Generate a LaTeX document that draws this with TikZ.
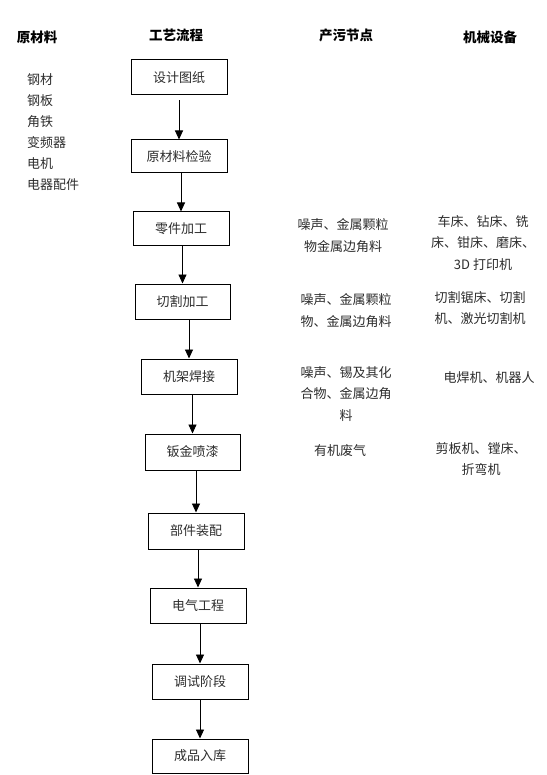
\documentclass[tikz,border=0pt]{standalone}
\usepackage{fontspec}
\setmainfont{Noto Sans CJK SC}
\usepackage{tikz}
\usetikzlibrary{arrows.meta}

\tikzset{
  stepbox/.style={draw=black,line width=1pt,minimum width=96pt,minimum height=35pt,inner sep=0pt,
    font=\fontsize{13}{15}\selectfont,text={rgb,255:red,45;green,45;blue,45}},
  headtxt/.style={inner sep=0pt,font=\bfseries\fontsize{13.5}{16}\selectfont,text=black},
  coltxt/.style={inner sep=0pt,align=center,font=\fontsize{13}{21.5}\selectfont,text={rgb,255:red,45;green,45;blue,45}},
  flowarrow/.style={draw=black,line width=0.9pt,-{Triangle[length=9pt,width=8pt]}}
}

\begin{document}
\begin{tikzpicture}[x=1pt,y=-1pt]
\path[use as bounding box] (0,0) rectangle (546,775);
\path[fill=white,draw=none] (0,0) rectangle (546,775);
% column heads
\node[headtxt] (hraw) at (37,37) {原材料};
\node[headtxt] (hflow) at (176,35) {工艺流程};
\node[headtxt] (hpoll) at (346,35) {产污节点};
\node[headtxt] (hequip) at (490,37) {机械设备};
% raw materials
\node[coltxt,align=left,anchor=west,font=\fontsize{13}{21}\selectfont] (raw) at (27,132.5) {钢材\\钢板\\角铁\\变频器\\电机\\电器配件};
% process steps
\node[stepbox] (design) at (179,77.5) {设计图纸};
\node[stepbox,minimum height=33pt] (check) at (179,156.5) {原材料检验};
\node[stepbox,minimum height=34pt] (parts) at (181,229) {零件加工};
\node[stepbox,minimum width=95pt] (cut) at (182.5,301.5) {切割加工};
\node[stepbox] (weld) at (189,376.5) {机架焊接};
\node[stepbox,minimum width=95pt,minimum height=36pt] (paint) at (192.5,452) {钣金喷漆};
\node[stepbox,minimum height=36pt] (assy) at (196,531) {部件装配};
\node[stepbox] (elec) at (198,605.5) {电气工程};
\node[stepbox] (debug) at (200,681.5) {调试阶段};
\node[stepbox,minimum height=34pt] (store) at (200,756) {成品入库};
% arrows
\draw[flowarrow] ([yshift=-5pt]design.south -| check.north) -- (check.north);
\draw[flowarrow] (check.south -| parts.north) -- (parts.north);
\draw[flowarrow] (parts.south -| cut.north) -- (cut.north);
\draw[flowarrow] (cut.south -| weld.north) -- (weld.north);
\draw[flowarrow] (weld.south -| paint.north) -- (paint.north);
\draw[flowarrow] (paint.south -| assy.north) -- (assy.north);
\draw[flowarrow] (assy.south -| elec.north) -- (elec.north);
\draw[flowarrow] (elec.south -| debug.north) -- (debug.north);
\draw[flowarrow] (debug.south -| store.north) -- (store.north);
% pollution nodes
\node[coltxt] (poll1) at (343,235.5) {噪声、金属颗粒\\物金属边角料};
\node[coltxt] (poll2) at (346,310.5) {噪声、金属颗粒\\物、金属边角料};
\node[coltxt] (poll3) at (346,394) {噪声、锡及其化\\合物、金属边角\\料};
\node[coltxt] (poll4) at (340,451) {有机废气};
% equipment
\node[coltxt] (equip1) at (483,243) {车床、钻床、铣\\床、钳床、磨床、\\3D 打印机};
\node[coltxt] (equip2) at (480,308) {切割锯床、切割\\机、激光切割机};
\node[coltxt] (equip3) at (489,378) {电焊机、机器人};
\node[coltxt] (equip4) at (481,459) {剪板机、镗床、\\折弯机};
\end{tikzpicture}
\end{document}
